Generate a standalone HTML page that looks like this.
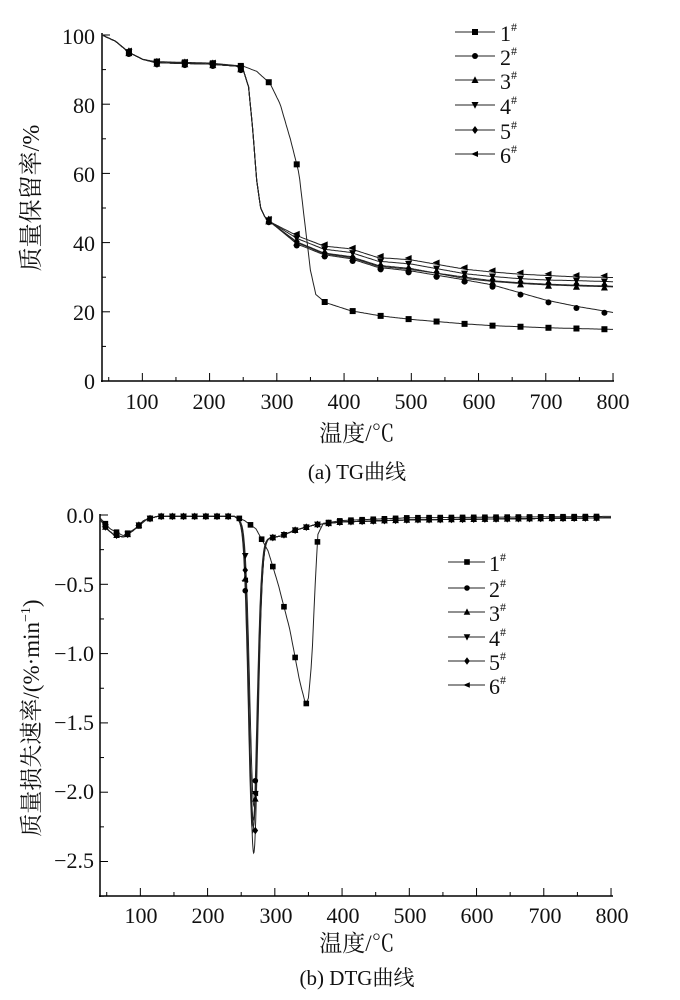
<!DOCTYPE html>
<html><head><meta charset="utf-8">
<style>
html,body{margin:0;padding:0;background:#fff;}
svg{display:block;}
text{font-family:"Liberation Serif","Noto Serif CJK SC",serif;fill:#111;}
</style></head>
<body>
<svg id="s" width="680" height="1000" viewBox="0 0 680 1000" xmlns="http://www.w3.org/2000/svg">
<line x1="102" y1="33" x2="102" y2="382" stroke="#000" stroke-width="1.5"/>
<line x1="101" y1="381" x2="614" y2="381" stroke="#000" stroke-width="1.5"/>
<g font-size="22" text-anchor="end">
<text x="95" y="44">100</text><text x="95" y="113">80</text><text x="95" y="182">60</text>
<text x="95" y="251">40</text><text x="95" y="320">20</text><text x="95" y="389">0</text>
</g>
<g font-size="22" text-anchor="middle">
<text x="142" y="409">100</text><text x="209" y="409">200</text><text x="277" y="409">300</text>
<text x="344" y="409">400</text><text x="411" y="409">500</text><text x="479" y="409">600</text>
<text x="546" y="409">700</text><text x="613" y="409">800</text>
</g>
<text x="357" y="441" font-size="23" text-anchor="middle">温度/℃</text>
<text x="357" y="479" font-size="21" text-anchor="middle">(a) TG曲线</text>
<text transform="translate(39,198) rotate(-90)" font-size="24" text-anchor="middle">质量保留率/%</text>
<line x1="100" y1="514" x2="100" y2="897" stroke="#000" stroke-width="1.5"/>
<line x1="99" y1="896" x2="613" y2="896" stroke="#000" stroke-width="1.5"/>
<g font-size="22" text-anchor="end">
<text x="94" y="523">0.0</text><text x="94" y="592">−0.5</text><text x="94" y="661">−1.0</text>
<text x="94" y="730">−1.5</text><text x="94" y="799">−2.0</text><text x="94" y="868">−2.5</text>
</g>
<g font-size="22" text-anchor="middle">
<text x="141" y="923">100</text><text x="208" y="923">200</text><text x="276" y="923">300</text>
<text x="343" y="923">400</text><text x="410" y="923">500</text><text x="477" y="923">600</text>
<text x="545" y="923">700</text><text x="612" y="923">800</text>
</g>
<text x="357" y="951" font-size="23" text-anchor="middle">温度/℃</text>
<text x="357" y="985" font-size="21" text-anchor="middle">(b) DTG曲线</text>
<text transform="translate(39,718) rotate(-90)" font-size="23" text-anchor="middle">质量损失速率/(%·min<tspan font-size="14" dy="-9">−1</tspan><tspan dy="9">)</tspan></text>
</svg>
<script>
var NS="http://www.w3.org/2000/svg";
var s=document.getElementById('s');
function el(n,a){var e=document.createElementNS(NS,n);for(var k in a)e.setAttribute(k,a[k]);s.appendChild(e);return e;}
function interp(pts,T){if(T<=pts[0][0])return pts[0][1];for(var i=1;i<pts.length;i++){if(T<=pts[i][0]){var a=pts[i-1],b=pts[i];return a[1]+(b[1]-a[1])*(T-a[0])/(b[0]-a[0]);}}return pts[pts.length-1][1];}
function marker(type,x,y,r){
 r=r||3.2;
 if(type==0)el('rect',{x:x-r,y:y-r,width:2*r,height:2*r,fill:'#000'});
 else if(type==1)el('circle',{cx:x,cy:y,r:r,fill:'#000'});
 else if(type==2)el('polygon',{points:(x)+','+(y-r-0.8)+' '+(x-r-0.5)+','+(y+r)+' '+(x+r+0.5)+','+(y+r),fill:'#000'});
 else if(type==3)el('polygon',{points:(x)+','+(y+r+0.8)+' '+(x-r-0.5)+','+(y-r)+' '+(x+r+0.5)+','+(y-r),fill:'#000'});
 else if(type==4)el('polygon',{points:x+','+(y-r-1)+' '+(x+r)+','+y+' '+x+','+(y+r+1)+' '+(x-r)+','+y,fill:'#000'});
 else el('polygon',{points:(x-r-1)+','+y+' '+(x+r)+','+(y-r)+' '+(x+r)+','+(y+r),fill:'#000'});
}
// TOP
var tx=function(T){return 102+(T-40)*0.6724;}, ty=function(v){return 381-v*3.46;};
for(var v=0;v<=100;v+=10){var y=ty(v);el('line',{x1:102,y1:y,x2:v%20==0?110:106,y2:y,stroke:'#000','stroke-width':1});}
for(var T=50;T<=800;T+=50){var x=tx(T);el('line',{x1:x,y1:381,x2:x,y2:T%100==0?373:377,stroke:'#000','stroke-width':1});}
var common=[[40,100],[60,98.2],[80,95],[100,93],[120,92],[200,91.6],[240,91],[250,90],[258,85],[264,73],[270,58],[276,50],[282,47.5],[290,46]];
function tail(a330,a370,a500,a580,a620,a660,a700,a745,a790){return [[330,a330],[370,a370],[410,(a370+a500)/2+1.2],[450,(a370+a500)/2-1.3],[500,a500],[580,a580],[620,a620],[660,a660],[700,a700],[745,a745],[800,a790]];}
var tg=[
 [[40,100],[60,98.2],[80,95],[100,93],[120,92.3],[200,91.9],[250,91],[270,89.5],[290,86],[305,80],[320,70],[333,60],[342,45],[350,32],[358,25],[372,22.7],[410,20.3],[455,18.8],[500,17.8],[580,16.5],[620,16],[700,15.4],[800,14.9]],
 common.concat(tail(39.6,36.5,31.8,29.2,27.8,25.6,23.4,21.6,19.8)),
 common.concat(tail(40.2,37.0,32.5,29.6,28.8,28.2,27.8,27.5,27.2)),
 common.concat(tail(41.2,38.1,33.8,31.0,30.2,29.6,29.2,29.0,28.7)),
 common.concat(tail(40.0,36.8,32.2,30.0,29.0,28.4,28.0,27.7,27.4)),
 common.concat(tail(42.0,39.0,35.0,32.3,31.5,30.9,30.5,30.1,29.9))
];
for(var k=0;k<6;k++){var p=[];for(var T=40;T<=800;T+=2)p.push(tx(T).toFixed(1)+','+ty(interp(tg[k],T)).toFixed(1));
 el('polyline',{points:p.join(' '),fill:'none',stroke:'#222','stroke-width':1});}
for(var k=0;k<6;k++){for(var T=80;T<=800;T+=41.6){var sh=k==0?0:(k-3)*0.25;marker(k,tx(T),ty(interp(tg[k],T)+sh),3);}}
var ly=[32,56,80,105,130,154];
for(var k=0;k<6;k++){el('line',{x1:455,y1:ly[k],x2:495,y2:ly[k],stroke:'#222','stroke-width':1});marker(k,475,ly[k],3);
 var t=el('text',{x:500,y:ly[k]+9,'font-size':22});t.textContent=(k+1);var sp=document.createElementNS(NS,'tspan');sp.setAttribute('font-size','12');sp.setAttribute('dy','-10');sp.textContent='#';t.appendChild(sp);}
// BOTTOM
var bx=function(T){return 100+(T-40)*0.6724;}, by=function(v){return 515-v*138.6;};
for(var i=0;i<=11;i++){var v=-0.25*i;var y=by(v);el('line',{x1:100,y1:y,x2:i%2==0?108:104,y2:y,stroke:'#000','stroke-width':1});}
for(var T=50;T<=800;T+=50){var x=bx(T);el('line',{x1:x,y1:896,x2:x,y2:T%100==0?888:892,stroke:'#000','stroke-width':1});}
var base=[[40,-0.03],[50,-0.1],[60,-0.14],[75,-0.16],[90,-0.11],[105,-0.04],[125,-0.01],[240,-0.01],[252,-0.05],[262,-0.12],[280,-0.2],[290,-0.17],[310,-0.15],[330,-0.11],[360,-0.07],[400,-0.05],[500,-0.035],[800,-0.02]];
var pk=[[0,0],[-2.3,267,6.3],[-2.25,268,6.5],[-2.1,269,6.2],[-2.44,268.5,6.3],[-2.2,268,6.6]];
var d1=[[40,-0.02],[55,-0.1],[75,-0.15],[95,-0.09],[110,-0.03],[125,-0.01],[240,-0.01],[255,-0.04],[272,-0.1],[290,-0.26],[305,-0.5],[322,-0.82],[337,-1.2],[346,-1.37],[350,-1.32],[355,-1.05],[360,-0.5],[364,-0.14],[372,-0.06],[400,-0.04],[500,-0.02],[800,-0.01]];
function dtg(k,T){if(k==0)return interp(d1,T);var b=interp(base,T);var q=pk[k];var z=(T-q[1])/q[2];return b+(q[0]+0.15)*Math.exp(-z*z/2);}
for(var k=0;k<6;k++){var p=[];for(var T=40;T<=800;T+=(T>240&&T<300)?0.5:2)p.push(bx(T).toFixed(1)+','+by(dtg(k,T)).toFixed(1));
 el('polyline',{points:p.join(' '),fill:'none',stroke:'#222','stroke-width':1});}
for(var k=0;k<6;k++){
 var ms=[];for(var T=48;T<=795;T+=16.6)ms.push(T);
 ms.forEach(function(T){if(k>0&&T>240&&T<290)return;marker(k,bx(T),by(dtg(k,T)),2.8);});
 if(k>0){[256,271].forEach(function(T){marker(k,bx(T),by(dtg(k,T)),2.8);});}
}
var ly2=[562,588,612,637,661,685];
for(var k=0;k<6;k++){el('line',{x1:448,y1:ly2[k],x2:485,y2:ly2[k],stroke:'#222','stroke-width':1});marker(k,467,ly2[k],2.8);
 var t=el('text',{x:489,y:ly2[k]+9,'font-size':22});t.textContent=(k+1);var sp=document.createElementNS(NS,'tspan');sp.setAttribute('font-size','12');sp.setAttribute('dy','-10');sp.textContent='#';t.appendChild(sp);}
</script>
</body></html>
